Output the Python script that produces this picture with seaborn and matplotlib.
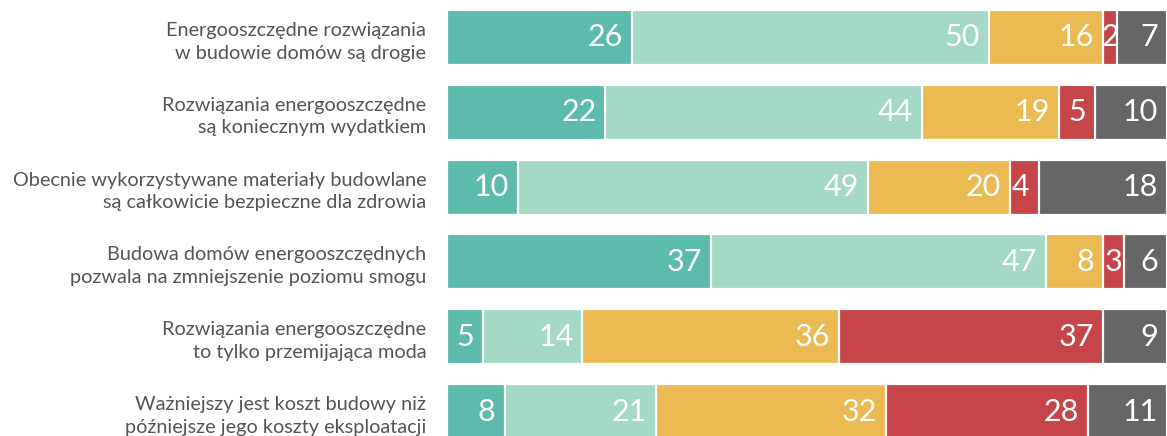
import matplotlib
matplotlib.use("Agg")
import matplotlib.pyplot as plt
import seaborn as sns
import pandas as pd
import numpy as np

categories = [
    "Energooszczędne rozwiązania\nw budowie domów są drogie",
    "Rozwiązania energooszczędne\nsą koniecznym wydatkiem",
    "Obecnie wykorzystywane materiały budowlane\nsą całkowicie bezpieczne dla zdrowia",
    "Budowa domów energooszczędnych\npozwala na zmniejszenie poziomu smogu",
    "Rozwiązania energooszczędne\nto tylko przemijająca moda",
    "Ważniejszy jest koszt budowy niż\npóźniejsze jego koszty eksploatacji",
]
series_names = ["Zdecydowanie tak", "Raczej tak", "Raczej nie", "Zdecydowanie nie", "Nie wiem"]
s1 = [26, 22, 10, 37, 5, 8]
s2 = [50, 44, 49, 47, 14, 21]
s3 = [16, 19, 20, 8, 36, 32]
s4 = [2, 5, 4, 3, 37, 28]
s5 = [7, 10, 18, 6, 9, 11]
colors = ["#5dbbab", "#a4d9c5", "#ebba52", "#c64549", "#666666"]

sns.set_theme(style="white")
plt.rcParams["font.family"] = ["Lato", "DejaVu Sans"]

vals = np.array([s1, s2, s3, s4, s5], dtype=float)  # series x rows
totals = vals.sum(axis=0)
cum = np.cumsum(vals, axis=0) / totals * 100
starts = cum - vals / totals * 100

fig = plt.figure(figsize=(11.67, 4.36), dpi=100)
ax = fig.add_axes([447 / 1167, 0, 1 - 447 / 1167, 1])

# draw cumulative layers from the longest to the shortest
for k in range(len(series_names) - 1, -1, -1):
    df = pd.DataFrame({"cat": categories, "val": cum[k]})
    sns.barplot(data=df, x="val", y="cat", orient="h", color=colors[k],
                saturation=1, width=0.735, edgecolor="white", linewidth=1.6,
                ax=ax, order=categories)

pad = 100 * 9 / 720
for k in range(len(series_names)):
    for i in range(len(categories)):
        v = vals[k, i]
        w = cum[k, i] - starts[k, i]
        if w < 3.5:
            ax.text((cum[k, i] + starts[k, i]) / 2, i, f"{int(v)}", ha="center", va="center",
                    color="white", fontsize=22)
        else:
            ax.text(cum[k, i] - pad, i, f"{int(v)}", ha="right", va="center",
                    color="white", fontsize=22)

ax.set_xlim(0, 100)
ax.set_ylim(5.327, -0.501)
ax.set_xlabel("")
ax.set_ylabel("")
ax.set_xticks([])
ax.tick_params(axis="y", length=0, pad=15, labelsize=14.3, labelcolor="#555555")
for lab in ax.get_yticklabels():
    lab.set_linespacing(1.4)
for sp in ax.spines.values():
    sp.set_visible(False)

fig.savefig("out.png", dpi=100)
